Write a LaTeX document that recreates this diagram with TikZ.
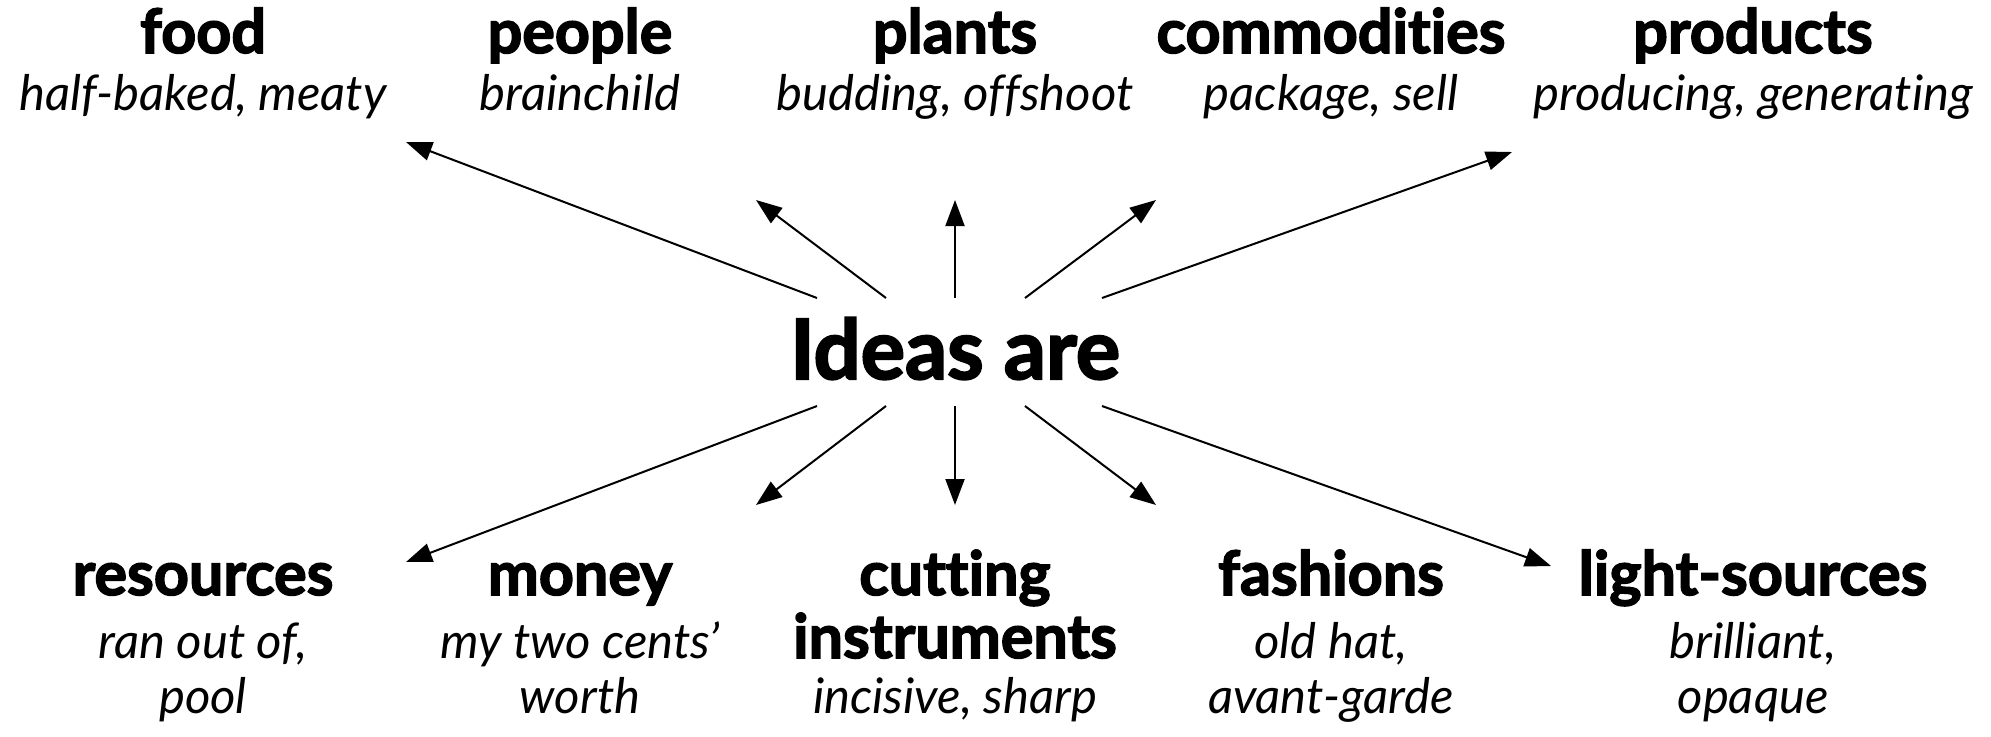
\documentclass[tikz,border=0pt]{standalone}
\usepackage{fontspec}
\setmainfont{Lato}[Ligatures=NoCommon, BoldFeatures={FakeBold=2.5}]
\usetikzlibrary{arrows.meta}
\tikzset{
  ttl/.style={anchor=base, inner sep=0pt, font=\fontsize{30.5}{30}\selectfont\bfseries},
  dsc/.style={anchor=base, inner sep=0pt, font=\fontsize{24.5}{24}\selectfont\itshape},
  hub/.style={anchor=base, inner sep=0pt, font=\fontsize{41.5}{41}\selectfont\bfseries},
  arr/.style={line width=1pt, -{Triangle[length=13pt,width=9.5pt]}}
}
\begin{document}
\begin{tikzpicture}[x=0.5pt,y=-0.5pt]
\useasboundingbox (0,0) rectangle (1991,736);
% hub
\node[hub] (ideas) at (955,379) {Ideas are};
% top row
\node[ttl] (foodT) at (203,53) {food};
\node[dsc] (foodD) at (203,110) {half-baked, meaty};
\node[ttl] (peopleT) at (580,53) {people};
\node[dsc] (peopleD) at (580,110) {brainchild};
\node[ttl] (plantsT) at (955,53) {plants};
\node[dsc] (plantsD) at (955,110) {budding, offshoot};
\node[ttl] (commT) at (1331,53) {commodities};
\node[dsc] (commD) at (1331,110) {package, sell};
\node[ttl] (prodT) at (1753,53) {products};
\node[dsc] (prodD) at (1753,110) {producing, generating};
% bottom row
\node[ttl] (resT) at (203,595) {resources};
\node[dsc] (resD1) at (203,658) {ran out of,};
\node[dsc] (resD2) at (203,713) {pool};
\node[ttl] (monT) at (580,595) {money};
\node[dsc] (monD1) at (580,658) {my two cents’};
\node[dsc] (monD2) at (580,713) {worth};
\node[ttl] (cutT1) at (955,595) {cutting};
\node[ttl] (cutT2) at (955,658) {instruments};
\node[dsc] (cutD) at (955,713) {incisive, sharp};
\node[ttl] (fasT) at (1331,595) {fashions};
\node[dsc] (fasD1) at (1331,658) {old hat,};
\node[dsc] (fasD2) at (1331,713) {avant-garde};
\node[ttl] (litT) at (1753,595) {light-sources};
\node[dsc] (litD1) at (1753,658) {brilliant,};
\node[dsc] (litD2) at (1753,713) {opaque};
% arrow start points around hub
\coordinate (s1) at (817,298);
\coordinate (s2) at (886,298);
\coordinate (s3) at (955,298);
\coordinate (s4) at (1025,298);
\coordinate (s5) at (1102,298);
\coordinate (b1) at (817,406);
\coordinate (b2) at (886,406);
\coordinate (b3) at (955,406);
\coordinate (b4) at (1025,406);
\coordinate (b5) at (1102,406);
% arrow tips
\coordinate (t1) at (406,142);
\coordinate (t2) at (756,200);
\coordinate (t3) at (955,200);
\coordinate (t4) at (1156,200);
\coordinate (t5) at (1512,152);
\coordinate (u1) at (406,562);
\coordinate (u2) at (756,505);
\coordinate (u3) at (955,505);
\coordinate (u4) at (1156,505);
\coordinate (u5) at (1551,566);
\draw[arr] (s1) -- (t1);
\draw[arr] (s2) -- (t2);
\draw[arr] (s3) -- (t3);
\draw[arr] (s4) -- (t4);
\draw[arr] (s5) -- (t5);
\draw[arr] (b1) -- (u1);
\draw[arr] (b2) -- (u2);
\draw[arr] (b3) -- (u3);
\draw[arr] (b4) -- (u4);
\draw[arr] (b5) -- (u5);
\end{tikzpicture}
\end{document}
